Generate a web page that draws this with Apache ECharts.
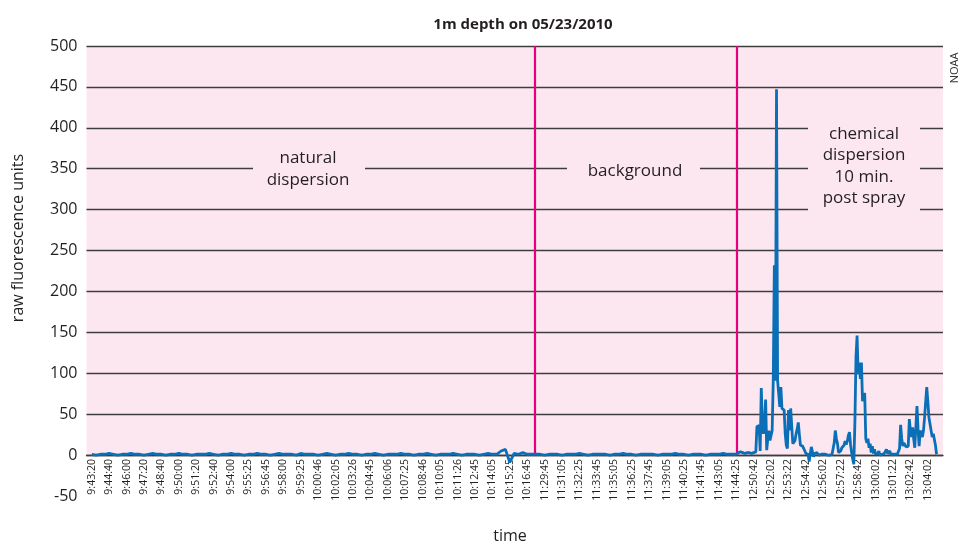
<!DOCTYPE html>
<html>
<head>
<meta charset="utf-8">
<script src="https://cdn.jsdelivr.net/npm/echarts@6/dist/echarts.min.js"></script>
<style>
  html, body { margin: 0; padding: 0; background: #fff; }
  #main { width: 961px; height: 544px; }
</style>
</head>
<body>
<div id="main"></div>
<script>
// x轴时间标签（每个标签之间的间隔 = 1 个单位）
var tickLabels = ['9:43:20','9:44:40','9:46:00','9:47:20','9:48:40','9:50:00','9:51:20','9:52:40','9:54:00',
  '9:55:25','9:56:45','9:58:00','9:59:25','10:00:46','10:02:05','10:03:26','10:04:45','10:06:06','10:07:25',
  '10:08:46','10:10:05','10:11:26','10:12:45','10:14:05','10:15:25','10:16:45','11:29:45','11:31:05',
  '11:32:25','11:33:45','11:35:05','11:36:25','11:37:45','11:39:05','11:40:25','11:41:45','11:43:05',
  '11:44:25','12:50:42','12:52:02','12:53:22','12:54:42','12:56:02','12:57:22','12:58:42','13:00:02',
  '13:01:22','13:02:42','13:04:02'];

// natural dispersion 段，步长 1/4
var naturalVals = [
  1,0,1,1,2,1,0,1,1,2,1,1,0,1,2,1,1,0,1,1,
  2,1,1,0,1,1,1,2,1,0,1,1,2,1,1,0,1,1,2,1,
  1,0,1,2,1,1,1,0,2,1,1,1,0,1,2,1,0,1,1,2,
  1,1,0,1,1,2,1,0,1,1,1,2,1,1,0,1,1,2,1,0,
  1,1,1,2,1,0,1,1,1,0,1,2,1,
  1,5,7,-9,2,1,3,1,1
];
// background 段，从 25.5 开始，步长 1/4
var backgroundVals = [
  1,1,0,1,1,1,0,1,1,1,
  2,1,0,1,1,1,1,0,1,1,
  2,1,1,0,1,1,1,1,0,1,
  1,1,2,1,1,0,1,1,1,0,
  1,1,1,2,1,1,1
];
// chemical dispersion 段，从 37 开始，步长 1/16
var chemVals = [
  3,3,3,4,3,3,3,2,3,3,3,3,3,2,3,3,3,4,
  35,34,36,5,82,40,26,40,68,6,20,30,
  18,24,30,91,232,91,447,91,75,59,
  83,57,56,55,26,12,8,55,30,57,
  35,14,12,18,26,32,40,25,12,13,
  11,12,5,2,3,1,-8,2,10,4,
  -2,2,1,3,1,0,1,1,0,1,
  0,1,1,0,1,0,1,1,2,15,
  30,20,14,3,1,5,9,7,12,17,
  13,17,24,28,13,3,-5,-11,40,120,
  146,99,113,93,113,66,64,76,20,15,
  20,9,14,3,11,2,7,1,2,2,
  5,0,-1,1,1,2,4,7,2,3,
  5,1,2,1,2,1,2,1,2,8,
  37,20,11,15,13,10,12,11,44,30,
  22,34,20,9,35,60,32,11,30,28,
  22,30,46,65,83,66,46,48,30,22,
  26,27,12,1
];
// 分段竖线位置
var sectionLines = [25.45, 37.05];

var FONT = 'Open Sans';
var TXT = '#231f20';
var PINK = '#fce7f1';

var lineData = [];
naturalVals.forEach(function (v, j) { lineData.push([j / 4, v]); });
backgroundVals.forEach(function (v, j) { lineData.push([25.5 + j / 4, v]); });
chemVals.forEach(function (v, j) { lineData.push([37 + (j + 1) / 16, v]); });

var tickPos = tickLabels.map(function (_, i) { return i; });

var myChart = echarts.init(document.getElementById('main'));
var option = {
  animation: false,
  backgroundColor: '#ffffff',
  title: {
    text: '1m depth on 05/23/2010',
    left: 518,
    top: 12,
    textAlign: 'center',
    textStyle: { fontFamily: FONT, fontSize: 15, fontWeight: 'bold', color: TXT }
  },
  grid: { left: 86.5, right: 18, top: 46, bottom: 48, outerBoundsMode: 'none', containLabel: false },
  xAxis: {
    type: 'value',
    min: -0.3,
    max: 48.87,
    z: 3,
    position: 'bottom',
    offset: -40.9, // 轴线放在 y=0 处
    axisLine: { onZero: false, lineStyle: { color: '#3d3d3d', width: 1.3 } },
    axisTick: { show: false },
    splitLine: { show: false },
    axisLabel: {
      customValues: tickPos,
      rotate: 90,
      margin: 4,
      fontFamily: FONT,
      fontSize: 10.5,
      color: TXT,
      formatter: function (v) { return tickLabels[Math.round(v)] || ''; }
    }
  },
  yAxis: {
    type: 'value',
    min: -50,
    max: 500,
    interval: 50,
    z: 3,
    axisLine: { show: false },
    axisTick: { show: false },
    axisLabel: { margin: 9, fontFamily: FONT, fontSize: 16, color: TXT },
    splitLine: { show: true, showMinLine: false, lineStyle: { color: '#3d3d3d', width: 1.3 } }
  },
  graphic: [
    { type: 'text', x: 18, y: 238, rotation: Math.PI / 2,
      style: { text: 'raw fluorescence units', font: '16px "Open Sans"', fill: TXT, align: 'center', verticalAlign: 'middle' } },
    { type: 'text', x: 510, y: 536,
      style: { text: 'time', font: '16px "Open Sans"', fill: TXT, align: 'center', verticalAlign: 'middle' } },
    { type: 'text', x: 955, y: 68, rotation: Math.PI / 2,
      style: { text: 'NOAA', font: '11px "Open Sans"', fill: '#333', align: 'center', verticalAlign: 'middle' } },
    { type: 'rect', z: 10, shape: { x: 253, y: 148, width: 112, height: 42 }, style: { fill: PINK } },
    { type: 'text', z: 11, x: 308, y: 169,
      style: { text: 'natural\ndispersion', font: '17px "Open Sans"', lineHeight: 22, fill: TXT, align: 'center', verticalAlign: 'middle' } },
    { type: 'rect', z: 10, shape: { x: 567, y: 158, width: 133, height: 26 }, style: { fill: PINK } },
    { type: 'text', z: 11, x: 635, y: 171,
      style: { text: 'background', font: '17px "Open Sans"', fill: TXT, align: 'center', verticalAlign: 'middle' } },
    { type: 'rect', z: 10, shape: { x: 808, y: 116, width: 112, height: 98 }, style: { fill: PINK } },
    { type: 'text', z: 11, x: 864, y: 166,
      style: { text: 'chemical\ndispersion\n10 min.\npost spray', font: '17px "Open Sans"', lineHeight: 21.5, fill: TXT, align: 'center', verticalAlign: 'middle' } }
  ],
  series: [
    {
      // 粉色背景（0~500）
      type: 'line',
      z: -1,
      silent: true,
      data: [],
      markArea: {
        silent: true,
        z: -1,
        itemStyle: { color: PINK },
        data: [[{ yAxis: 0 }, { yAxis: 500 }]]
      }
    },
    {
      type: 'line',
      z: 5,
      data: lineData,
      showSymbol: false,
      lineStyle: { color: '#0a6fb7', width: 2.8 },
      markLine: {
        silent: true,
        z: 5,
        symbol: 'none',
        label: { show: false },
        lineStyle: { color: '#e6007e', width: 2.2, type: 'solid' },
        data: sectionLines.map(function (x) { return [{ coord: [x, 0] }, { coord: [x, 500] }]; })
      }
    }
  ]
};
myChart.setOption(option);
</script>
</body>
</html>
